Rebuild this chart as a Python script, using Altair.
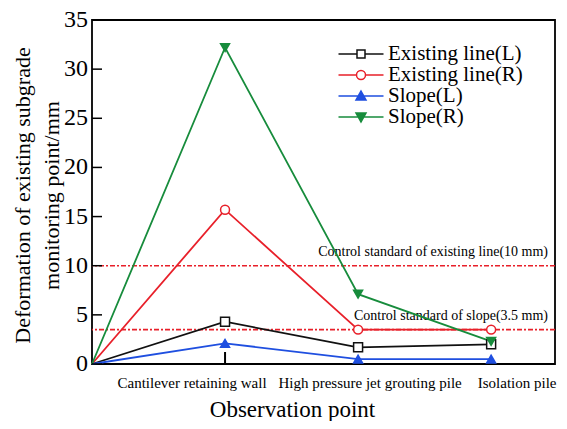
import altair as alt
import pandas as pd

categories = ["", "Cantilever retaining wall", "High pressure jet grouting pile", "Isolation pile"]
series = ["Existing line(L)", "Existing line(R)", "Slope(L)", "Slope(R)"]
existing_L = [0, 4.3, 1.7, 2.0]
existing_R = [0, 15.7, 3.5, 3.5]
slope_L = [0, 2.1, 0.5, 0.5]
slope_R = [0, 32.2, 7.1, 2.3]
control_values = [10, 3.5]
control_labels = ["Control standard of existing line(10 mm)", "Control standard of slope(3.5 mm)"]
y_tick_values = [0, 5, 10, 15, 20, 25, 30, 35]
x_tick_values = [1]

colors = ["#111111", "#e8202a", "#1f4fe0", "#178c3c"]
fills = ["white", "white", "#1f4fe0", "#178c3c"]
shapes = ["square", "circle", "triangle-up", "triangle-down"]
label_dx = [0, -33, 12, 26]
legend_paths = [
    "M-2.25,0H-0.4M0.4,0H2.25M-0.4,-0.4H0.4V0.4H-0.4Z",
    "M-2.25,0H-0.45M0.45,0H2.25M-0.45,0A0.45,0.45 0 1,0 0.45,0A0.45,0.45 0 1,0 -0.45,0Z",
    "M-2.25,0H2.25M0,-0.5L0.5,0.4L-0.5,0.4Z",
    "M-2.25,0H2.25M-0.5,-0.4L0.5,-0.4L0,0.5Z",
]

rows = []
for name, vals in zip(series, [existing_L, existing_R, slope_L, slope_R]):
    for i, v in enumerate(vals):
        rows.append({"series": name, "x": i, "value": v})
df = pd.DataFrame(rows)
ctrl = pd.DataFrame({"value": control_values, "label": control_labels})
yt = pd.DataFrame({"value": y_tick_values, "label": [str(v) for v in y_tick_values]})
xt = pd.DataFrame({"x": x_tick_values})

W, H = 463, 344
FONT = "Liberation Serif"

xscale = alt.Scale(domain=[0, 3.48], nice=False, zero=False)
yscale = alt.Scale(domain=[0, 35], nice=False)

xaxis = alt.Axis(
    labels=False, ticks=False, domain=False, grid=False,
    title="Observation point", titleFont=FONT, titleFontSize=23, titleFontWeight="normal",
    titleColor="black", titleX=200, titleY=52, titleAlign="center", titleBaseline="alphabetic")
yaxis = alt.Axis(
    labels=False, ticks=False, domain=False, grid=False,
    title=["Deformation of existing subgrade", "monitoring point/mm"],
    titleFont=FONT, titleFontSize=22, titleFontWeight="normal", titleColor="black",
    titleX=-70, titleY=175, titleAngle=-90, titleAlign="center", titleBaseline="middle",
    titleLineHeight=29)
X = alt.X("x:Q", scale=xscale, axis=xaxis)
Y = alt.Y("value:Q", scale=yscale, axis=yaxis)
X0 = alt.X("x:Q", scale=xscale)
Y0 = alt.Y("value:Q", scale=yscale)

base = alt.Chart(df)

rules = alt.Chart(ctrl).mark_rule(color="#e8202a", strokeWidth=1.6, strokeDash=[5, 2, 2, 2]).encode(
    y=Y0)
texts = alt.Chart(ctrl).mark_text(align="right", baseline="alphabetic", dy=-10, font=FONT,
                                  fontSize=14, color="black").encode(
    x=alt.value(W - 7), y=Y0, text="label:N")

lines = base.mark_line(strokeWidth=1.8).encode(
    x=X, y=Y,
    stroke=alt.Stroke("series:N", scale=alt.Scale(domain=series, range=colors), legend=None))

points = base.transform_filter("datum.x > 0").mark_point(strokeWidth=1.5, opacity=1, size=80).encode(
    x=X0, y=Y0,
    shape=alt.Shape("series:N", scale=alt.Scale(domain=series, range=shapes), legend=None),
    stroke=alt.Stroke("series:N", scale=alt.Scale(domain=series, range=colors), legend=None),
    fill=alt.Fill("series:N", scale=alt.Scale(domain=series, range=fills), legend=None))

leg = alt.Legend(title=None, orient="none", legendX=258, legendY=23, symbolSize=400,
                 symbolStrokeWidth=1.5, labelFont=FONT, labelFontSize=21, labelColor="black",
                 labelOffset=16, rowPadding=0, padding=0, labelLimit=300)
legend_layer = base.transform_filter("false").mark_point(strokeWidth=1.5, opacity=1).encode(
    shape=alt.Shape("series:N", scale=alt.Scale(domain=series, range=legend_paths), legend=leg),
    stroke=alt.Stroke("series:N", scale=alt.Scale(domain=series, range=colors), legend=leg),
    fill=alt.Fill("series:N", scale=alt.Scale(domain=series, range=fills), legend=leg))

yticks = alt.Chart(yt).mark_rule(color="black", strokeWidth=1.5).encode(
    x=alt.value(0), x2=alt.value(10), y=Y0)
ylabels = alt.Chart(yt).mark_text(align="right", baseline="middle", font=FONT, fontSize=24,
                                  color="black").encode(
    x=alt.value(-4), y=Y0, text="label:N")
xticks = alt.Chart(xt).mark_rule(color="black", strokeWidth=2).encode(
    x=X0, y=alt.value(H - 12), y2=alt.value(H))

xlabel_layers = []
for i in range(1, len(categories)):
    d = pd.DataFrame({"x": [i], "label": [categories[i]]})
    xlabel_layers.append(
        alt.Chart(d).mark_text(align="center", baseline="middle", font=FONT, fontSize=15,
                               color="black", dx=label_dx[i]).encode(
            x=X0, y=alt.value(H + 19), text="label:N"))

chart = alt.layer(rules, texts, lines, points, yticks, ylabels, xticks, *xlabel_layers,
                  legend_layer).resolve_scale(
    shape="independent", stroke="independent", fill="independent"
).properties(
    width=W, height=H,
    background="white",
    autosize=alt.AutoSizeParams(type="none"),
    padding={"left": 84, "top": 12, "right": 4, "bottom": 57},
).configure(
    view=alt.ViewConfig(stroke="black", strokeWidth=1.8),
    axis=alt.AxisConfig(ticks=False, domain=False, grid=False, labels=False),
    legend=alt.LegendConfig(labelFont=FONT),
    style={"guide-label": {"font": FONT}, "guide-title": {"font": FONT}},
)

chart.save("out.html", embed_options={"renderer": "svg", "actions": False})
